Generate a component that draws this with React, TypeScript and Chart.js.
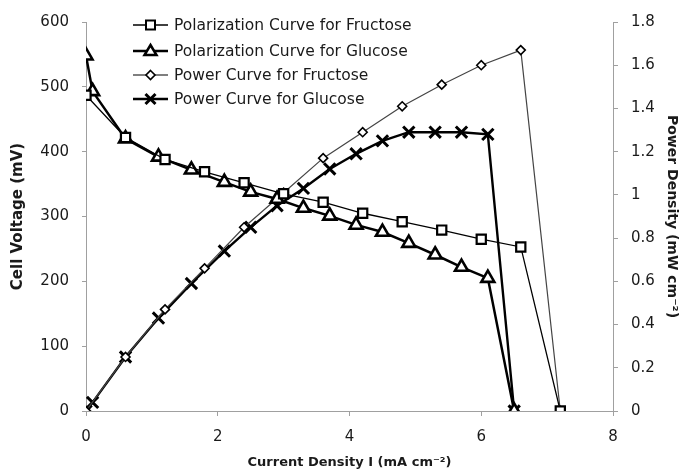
import React, { useEffect, useRef } from "react";
import { Chart, registerables } from "chart.js";

Chart.register(...registerables);

// Current density (mA cm-2)
const fructoseCurrent = [0, 0.6, 1.2, 1.8, 2.4, 3.0, 3.6, 4.2, 4.8, 5.4, 6.0, 6.6, 7.2];
const fructoseVoltage = [487, 422, 388, 369, 352, 335, 322, 305, 292, 279, 265, 253, 0];
const fructosePower = [0, 0.25, 0.47, 0.66, 0.85, 1.01, 1.17, 1.29, 1.41, 1.51, 1.6, 1.67, 0];

const glucoseCurrent = [0, 0.1, 0.6, 1.1, 1.6, 2.1, 2.5, 2.9, 3.3, 3.7, 4.1, 4.5, 4.9, 5.3, 5.7, 6.1, 6.5];
const glucoseVoltage = [548, 493, 420, 392, 372, 353, 338, 327, 313, 301, 287, 276, 259, 241, 222, 205, 0];
const glucosePower = [0, 0.04, 0.25, 0.43, 0.59, 0.74, 0.85, 0.95, 1.03, 1.12, 1.19, 1.25, 1.29, 1.29, 1.29, 1.28, 0];

const seriesNames = [
  "Polarization Curve for Fructose",
  "Polarization Curve for Glucose",
  "Power Curve for Fructose",
  "Power Curve for Glucose",
];

const xTitle = "Current Density I (mA cm⁻²)";
const yTitle = "Cell Voltage (mV)";
const y1Title = "Power Density (mW cm⁻²)";

const FONT = "'DejaVu Sans', sans-serif";
const AXIS_COLOR = "#a0a0a0";
const TEXT_COLOR = "#1a1a1a";

const toPoints = (xs: number[], ys: number[]) => xs.map((x, i) => ({ x, y: ys[i] }));

function drawMarker(ctx: CanvasRenderingContext2D, style: string, x: number, y: number) {
  ctx.save();
  ctx.strokeStyle = "#000";
  ctx.fillStyle = "#fff";
  if (style === "rect") {
    ctx.lineWidth = 2;
    ctx.beginPath();
    ctx.rect(x - 4.5, y - 4.5, 9, 9);
    ctx.fill();
    ctx.stroke();
  } else if (style === "triangle") {
    ctx.lineWidth = 2.5;
    ctx.beginPath();
    ctx.moveTo(x, y - 6);
    ctx.lineTo(x + 6, y + 4);
    ctx.lineTo(x - 6, y + 4);
    ctx.closePath();
    ctx.fill();
    ctx.stroke();
  } else if (style === "rectRot") {
    ctx.lineWidth = 1.6;
    ctx.beginPath();
    ctx.moveTo(x, y - 4.5);
    ctx.lineTo(x + 4.5, y);
    ctx.lineTo(x, y + 4.5);
    ctx.lineTo(x - 4.5, y);
    ctx.closePath();
    ctx.fill();
    ctx.stroke();
  } else {
    ctx.lineWidth = 3;
    ctx.beginPath();
    ctx.moveTo(x - 5, y - 5);
    ctx.lineTo(x + 5, y + 5);
    ctx.moveTo(x + 5, y - 5);
    ctx.lineTo(x - 5, y + 5);
    ctx.stroke();
  }
  ctx.restore();
}

const legendPlugin = {
  id: "customLegend",
  afterDraw(chart: any) {
    const ctx = chart.ctx as CanvasRenderingContext2D;
    const styles = ["rect", "triangle", "rectRot", "crossRot"];
    const widths = [1.3, 2.5, 1.3, 2.5];
    const colors = ["#000", "#000", "#555", "#000"];
    const rowY = [25, 51, 75, 99];
    ctx.save();
    seriesNames.forEach((name, i) => {
      const y = rowY[i];
      ctx.strokeStyle = colors[i];
      ctx.lineWidth = widths[i];
      ctx.setLineDash([]);
      ctx.beginPath();
      ctx.moveTo(133, y);
      ctx.lineTo(168, y);
      ctx.stroke();
      drawMarker(ctx, styles[i], 150.5, y);
      ctx.fillStyle = TEXT_COLOR;
      ctx.font = `15.5px ${FONT}`;
      ctx.textBaseline = "middle";
      ctx.textAlign = "left";
      ctx.fillText(name, 174, y + 1);
    });
    ctx.restore();
  },
};

export default function App() {
  const canvasRef = useRef<HTMLCanvasElement | null>(null);

  useEffect(() => {
    document.body.style.margin = "0";
    const canvas = canvasRef.current;
    if (!canvas) return;
    const chart = new Chart(canvas, {
      type: "line",
      data: {
        datasets: [
          {
            label: seriesNames[0],
            data: toPoints(fructoseCurrent, fructoseVoltage),
            yAxisID: "y",
            borderColor: "#000",
            borderWidth: 1.3,
            pointStyle: "rect",
            pointRadius: 6.5,
            pointBorderWidth: 2.2,
            pointBackgroundColor: "#fff",
            pointBorderColor: "#000",
            tension: 0,
          },
          {
            label: seriesNames[1],
            data: toPoints(glucoseCurrent, glucoseVoltage),
            yAxisID: "y",
            borderColor: "#000",
            borderWidth: 2.5,
            pointStyle: "triangle",
            pointRadius: 7.5,
            pointBorderWidth: 2.6,
            pointBackgroundColor: "#fff",
            pointBorderColor: "#000",
            tension: 0,
          },
          {
            label: seriesNames[2],
            data: toPoints(fructoseCurrent, fructosePower),
            yAxisID: "y1",
            borderColor: "#444",
            borderWidth: 1.2,
            pointStyle: "rectRot",
            pointRadius: 4.5,
            pointBorderWidth: 1.6,
            pointBackgroundColor: "#fff",
            pointBorderColor: "#000",
            tension: 0,
          },
          {
            label: seriesNames[3],
            data: toPoints(glucoseCurrent, glucosePower),
            yAxisID: "y1",
            borderColor: "#000",
            borderWidth: 2.4,
            pointStyle: "crossRot",
            pointRadius: 8,
            pointBorderWidth: 3,
            pointBorderColor: "#000",
            tension: 0,
          },
        ],
      },
      options: {
        animation: false,
        responsive: false,
        maintainAspectRatio: false,
        layout: { padding: { top: 22, left: 0, right: 0, bottom: 0 } },
        plugins: {
          legend: { display: false },
          tooltip: { enabled: false },
        },
        scales: {
          x: {
            type: "linear",
            min: 0,
            max: 8,
            ticks: {
              stepSize: 2,
              color: TEXT_COLOR,
              font: { family: FONT, size: 15 },
              padding: 12,
            },
            grid: {
              display: true,
              drawOnChartArea: false,
              drawTicks: true,
              tickLength: 5,
              color: AXIS_COLOR,
            },
            border: { display: true, color: AXIS_COLOR },
            title: {
              display: true,
              text: xTitle,
              color: TEXT_COLOR,
              font: { family: FONT, size: 13, weight: "bold" },
              padding: { top: 0, bottom: 4 },
            },
            afterFit: (scale: any) => {
              scale.height = 63;
            },
          },
          y: {
            type: "linear",
            position: "left",
            min: 0,
            max: 600,
            ticks: {
              stepSize: 100,
              color: TEXT_COLOR,
              font: { family: FONT, size: 15 },
              padding: 13,
            },
            grid: {
              display: true,
              drawOnChartArea: false,
              drawTicks: true,
              tickLength: 4,
              color: AXIS_COLOR,
            },
            border: { display: true, color: AXIS_COLOR },
            title: {
              display: true,
              text: yTitle,
              color: TEXT_COLOR,
              font: { family: FONT, size: 15, weight: "bold" },
              padding: { top: 9, bottom: 0 },
            },
            afterFit: (scale: any) => {
              scale.width = 86;
            },
          },
          y1: {
            type: "linear",
            position: "right",
            min: 0,
            max: 1.8,
            ticks: {
              stepSize: 0.2,
              color: TEXT_COLOR,
              font: { family: FONT, size: 15 },
              padding: 13,
              callback: (v: any) => {
                const n = Math.round(Number(v) * 10) / 10;
                return String(n);
              },
            },
            grid: {
              display: true,
              drawOnChartArea: false,
              drawTicks: true,
              tickLength: 5,
              color: AXIS_COLOR,
            },
            border: { display: true, color: AXIS_COLOR },
            title: {
              display: true,
              text: y1Title,
              color: TEXT_COLOR,
              font: { family: FONT, size: 14, weight: "bold" },
              padding: { top: 2, bottom: 0 },
            },
            afterFit: (scale: any) => {
              scale.width = 69;
            },
          },
        },
      },
      plugins: [legendPlugin],
    } as any);
    return () => chart.destroy();
  }, []);

  return (
    <div style={{ width: 682, height: 474, background: "#fff" }}>
      <canvas ref={canvasRef} width={682} height={474} />
    </div>
  );
}
